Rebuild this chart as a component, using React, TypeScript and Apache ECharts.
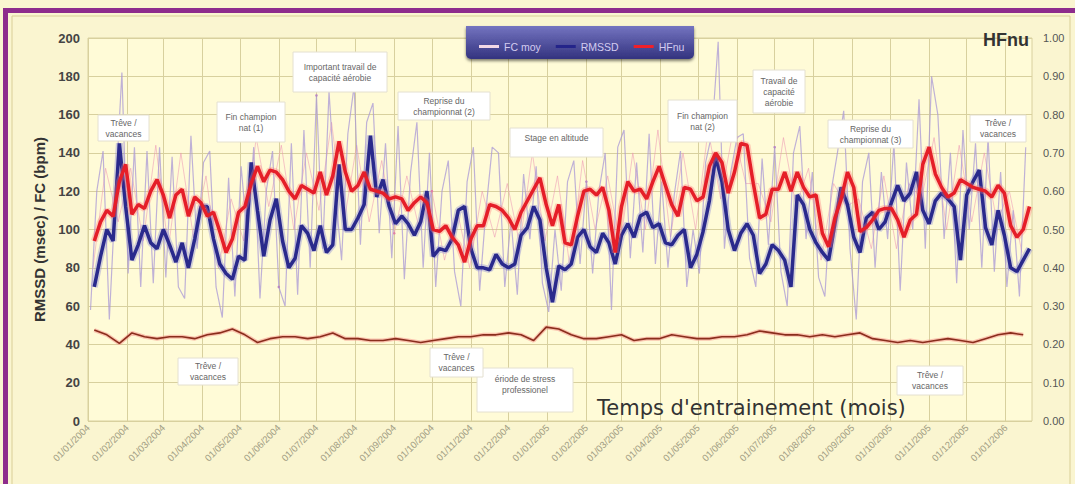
import React, { useEffect, useRef } from "react";
import * as echarts from "echarts";

// ---------- axis categories (one per day, 01/01/2004 .. 22/01/2006) ----------
const FIRST_DAY = Date.UTC(2004, 0, 1);
const DAY_COUNT = 753;
const dayLabels: string[] = [];
for (let i = 0; i < DAY_COUNT; i++) {
  const d = new Date(FIRST_DAY + i * 86400000);
  const dd = String(d.getUTCDate()).padStart(2, "0");
  const mm = String(d.getUTCMonth() + 1).padStart(2, "0");
  dayLabels.push(`${dd}/${mm}/${d.getUTCFullYear()}`);
}

const leftTicks = { min: 0, max: 200, interval: 20 };
const rightTicks = { min: 0, max: 1, interval: 0.1 };

// ---------- data ----------
// smoothed series: one value every 5 days, first value at day 5
const SMOOTH_START = 5;
const SMOOTH_STEP = 5;
const rmssd = [
  70, 86, 100, 94, 145, 112, 84, 92, 102, 93, 90, 100, 92, 83, 93, 80, 95, 112, 112, 95, 82, 77, 74, 86, 84, 135, 110, 86, 105, 116, 94, 80, 85, 102, 98, 89, 102,
  88, 92, 134, 100, 100, 106, 113, 149, 117, 126, 112, 103, 107, 103, 97, 104, 120, 86, 90, 89, 95, 110, 112, 90, 80, 80, 79, 87, 82, 80, 82, 97, 101, 112, 105, 80, 62, 81,
  79, 82, 96, 100, 91, 88, 98, 93, 82, 97, 103, 96, 107, 109, 101, 103, 93, 92, 97, 100, 80, 87, 99, 115, 138, 125, 100, 89, 98, 103, 97, 77, 82, 92, 89, 84, 70,
  118, 113, 100, 93, 88, 84, 103, 122, 113, 96, 88, 106, 109, 100, 104, 114, 123, 115, 119, 130, 110, 103, 115, 119, 116, 112, 84, 118, 125, 131, 101, 92, 110, 97, 80, 78, 84, 90,
];
const hfnu = [
  0.47, 0.52, 0.55, 0.535, 0.625, 0.67, 0.54, 0.565, 0.555, 0.6, 0.63, 0.59, 0.53, 0.59, 0.605, 0.535, 0.585, 0.57, 0.535, 0.545, 0.495, 0.44, 0.475, 0.545, 0.56, 0.62, 0.665, 0.625, 0.655, 0.65, 0.63, 0.6, 0.58, 0.615, 0.605, 0.595, 0.65,
  0.59, 0.64, 0.73, 0.65, 0.6, 0.615, 0.65, 0.605, 0.6, 0.595, 0.58, 0.585, 0.58, 0.55, 0.57, 0.585, 0.57, 0.5, 0.495, 0.51, 0.48, 0.46, 0.415, 0.475, 0.51, 0.51, 0.565, 0.56, 0.55, 0.53, 0.5, 0.545, 0.575, 0.605, 0.635, 0.565, 0.51, 0.565,
  0.465, 0.46, 0.535, 0.6, 0.605, 0.59, 0.61, 0.55, 0.44, 0.56, 0.625, 0.6, 0.605, 0.58, 0.625, 0.665, 0.615, 0.565, 0.535, 0.61, 0.605, 0.575, 0.585, 0.665, 0.7, 0.675, 0.595, 0.65, 0.725, 0.72, 0.62, 0.53, 0.54, 0.605, 0.605, 0.65, 0.6,
  0.65, 0.61, 0.585, 0.59, 0.49, 0.455, 0.53, 0.58, 0.65, 0.61, 0.495, 0.505, 0.525, 0.55, 0.555, 0.555, 0.525, 0.48, 0.525, 0.54, 0.67, 0.715, 0.645, 0.61, 0.585, 0.595, 0.63, 0.62, 0.61, 0.605, 0.6, 0.585, 0.615, 0.595, 0.51, 0.48, 0.5, 0.56,
];
// FC moy: one value every 10 days, first value at day 5
const FC_START = 5;
const FC_STEP = 10;
const fcMoy = [
  47.5, 45, 40.5, 46, 44, 43, 44, 44, 43, 45, 46, 48, 45, 41, 43, 44, 44, 43, 44, 46, 43, 43, 42, 42, 43, 42, 41, 42, 43, 44, 44, 45, 45, 46, 45, 42, 49, 48,
  45, 43, 43, 44, 45, 42, 43, 43, 45, 44, 43, 43, 44, 44, 45, 47, 46, 45, 45, 44, 45, 44, 45, 46, 43, 42, 41, 42, 41, 42, 43, 42, 41, 43, 45, 46, 45,
];
// daily RMSSD (thin light line): one value every 5 days, first value at day 2
const RAW_START = 2;
const RAW_STEP = 5;
const rmssdDaily = [
  58, 120, 141, 53, 120, 182, 77, 143, 70, 141, 72, 143, 75, 138, 70, 64, 149, 90, 135, 141, 70, 54, 127, 65, 133, 95, 143, 64, 120, 141, 70, 60, 145, 66, 152, 80, 170,
  90, 172, 120, 84, 150, 175, 92, 156, 166, 98, 145, 85, 154, 74, 130, 156, 80, 140, 70, 120, 136, 78, 60, 125, 143, 68, 110, 143, 140, 70, 105, 66, 129, 95, 133, 72, 57, 100,
  68, 125, 136, 82, 125, 77, 120, 140, 58, 143, 152, 85, 135, 88, 150, 82, 125, 80, 118, 141, 70, 100, 77, 135, 150, 198, 90, 130, 148, 150, 85, 70, 137, 92, 143, 78, 60, 140,
  154, 95, 130, 75, 65, 120, 140, 162, 90, 53, 125, 140, 80, 130, 95, 145, 68, 135, 100, 168, 90, 180, 160, 95, 140, 72, 152, 100, 145, 80, 148, 78, 130, 70, 110, 65, 143,
];
// daily HFnu (thin pink line): one value every 10 days, first value at day 4
const RAW_HF_START = 4;
const RAW_HF_STEP = 10;
const hfnuDaily = [
  0.4, 0.66, 0.52, 0.66, 0.47, 0.72, 0.45, 0.7, 0.48, 0.64, 0.4, 0.58, 0.47, 0.74, 0.56, 0.72, 0.5, 0.7, 0.55, 0.78, 0.52, 0.72, 0.52, 0.68, 0.49,
  0.64, 0.5, 0.6, 0.42, 0.55, 0.4, 0.6, 0.48, 0.62, 0.46, 0.7, 0.47, 0.64, 0.4, 0.68, 0.5, 0.64, 0.46, 0.7, 0.5, 0.76, 0.48, 0.7, 0.5, 0.76,
  0.58, 0.76, 0.62, 0.62, 0.52, 0.74, 0.56, 0.66, 0.42, 0.62, 0.56, 0.58, 0.45, 0.64, 0.45, 0.62, 0.58, 0.74, 0.5, 0.72, 0.52, 0.7, 0.52, 0.6, 0.44,
];

// ---------- annotation boxes (layout) ----------
type Note = { x: number; y: number; w: number; h: number; lines: string[]; ty?: number };
const NOTES: Note[] = [
  { x: 98, y: 115, w: 51, h: 26, lines: ["Trêve /", "vacances"] },
  { x: 217, y: 102, w: 68, h: 40, lines: ["Fin champion", "nat (1)"] },
  { x: 293, y: 52, w: 94, h: 40, lines: ["Important travail de", "capacité aérobie"] },
  { x: 398, y: 92, w: 92, h: 28, lines: ["Reprise du", "championnat (2)"] },
  { x: 510, y: 128, w: 93, h: 29, lines: ["Stage en altitude"], ty: 138 },
  { x: 668, y: 100, w: 69, h: 42, lines: ["Fin champion", "nat (2)"] },
  { x: 753, y: 70, w: 52, h: 43, lines: ["Travail de", "capacité", "aérobie"] },
  { x: 828, y: 120, w: 85, h: 28, lines: ["Reprise du", "championnat (3)"] },
  { x: 970, y: 115, w: 56, h: 27, lines: ["Trêve /", "vacances"] },
  { x: 178, y: 358, w: 60, h: 27, lines: ["Trêve /", "vacances"] },
  { x: 477, y: 368, w: 96, h: 44, lines: ["ériode de stress", "professionel"], ty: 384 },
  { x: 430, y: 348, w: 53, h: 29, lines: ["Trêve /", "vacances"] },
  { x: 897, y: 366, w: 66, h: 29, lines: ["Trêve /", "vacances"] },
];

const GRID_COLOR = "#D8D09E";
const FONT = "'Liberation Sans', Arial, sans-serif";
const isMonthStart = (_i: number, v: string) => v.startsWith("01/");
const pairs = (vals: number[], start: number, step: number) => vals.map((v, i) => [start + i * step, v]);

export default function App() {
  const ref = useRef<HTMLDivElement>(null);
  useEffect(() => {
    const chart = echarts.init(ref.current!, null, { renderer: "svg" });

    const noteEls: any[] = [];
    NOTES.forEach((n) => {
      noteEls.push({
        type: "rect",
        z: 20,
        shape: { x: n.x, y: n.y, width: n.w, height: n.h },
        style: { fill: "#FFFFFF", stroke: "#E4E0D0", lineWidth: 1 },
      });
      noteEls.push({
        type: "text",
        z: 21,
        x: n.x + n.w / 2,
        y: n.ty ?? n.y + n.h / 2,
        style: {
          text: n.lines.join("\n"),
          fill: "#666",
          font: `8.5px ${FONT}`,
          align: "center",
          verticalAlign: "middle",
          lineHeight: 11,
        },
      });
    });

    const option: any = {
      animation: false,
      backgroundColor: "#FAF5D0",
      grid: {
        left: 88,
        right: 43,
        top: 38,
        bottom: 63,
        show: true,
        backgroundColor: "#FFFBD7",
        borderColor: GRID_COLOR,
        borderWidth: 1,
      },
      legend: {
        data: [
          { name: "FC moy", itemStyle: { color: "#F2D8E6" } },
          { name: "RMSSD", itemStyle: { color: "#24248A" } },
          { name: "HFnu", itemStyle: { color: "#F0202A" } },
        ],
        left: 474,
        top: 36,
        icon: "rect",
        itemWidth: 20,
        itemHeight: 3,
        itemGap: 15,
        z: 12,
        textStyle: { color: "#D4CCF0", fontSize: 10.5, fontFamily: FONT },
      },
      xAxis: {
        type: "category",
        data: dayLabels,
        boundaryGap: false,
        axisLine: { show: false },
        axisTick: { show: false },
        splitLine: { show: true, interval: isMonthStart, lineStyle: { color: GRID_COLOR, width: 1 } },
        axisLabel: {
          interval: isMonthStart,
          rotate: 45,
          fontSize: 9.5,
          color: "#A09C82",
          margin: 5,
          fontFamily: FONT,
        },
      },
      yAxis: [
        {
          type: "value",
          ...leftTicks,
          name: "RMSSD (msec) / FC (bpm)",
          nameLocation: "middle",
          nameGap: 31,
          nameTextStyle: { fontSize: 15, fontWeight: "bold", color: "#333", fontFamily: FONT },
          axisLine: { show: false },
          axisTick: { show: false },
          splitLine: { show: true, lineStyle: { color: GRID_COLOR, width: 1 } },
          axisLabel: { fontSize: 13, fontWeight: "bold", color: "#444", margin: 8, fontFamily: FONT },
        },
        {
          type: "value",
          ...rightTicks,
          position: "right",
          axisLine: { show: false },
          axisTick: { show: false },
          splitLine: { show: false },
          axisLabel: {
            fontSize: 11,
            color: "#555",
            margin: 11,
            formatter: (v: number) => v.toFixed(2),
            fontFamily: FONT,
          },
        },
      ],
      series: [
        {
          type: "line",
          name: "HFnu quotidien",
          yAxisIndex: 1,
          data: pairs(hfnuDaily, RAW_HF_START, RAW_HF_STEP),
          symbol: "circle",
          symbolSize: 2.5,
          showSymbol: true,
          itemStyle: { color: "#E07FA6" },
          lineStyle: { color: "rgba(236,150,180,0.55)", width: 1 },
          silent: true,
          z: 1,
        },
        {
          type: "line",
          name: "RMSSD quotidien",
          data: pairs(rmssdDaily, RAW_START, RAW_STEP),
          symbol: "circle",
          symbolSize: 2.5,
          showSymbol: true,
          itemStyle: { color: "#B887C2" },
          lineStyle: { color: "rgba(170,152,214,0.75)", width: 1.2 },
          silent: true,
          z: 1,
        },
        {
          type: "line",
          name: "FC halo",
          data: pairs(fcMoy, FC_START, FC_STEP),
          symbol: "none",
          lineStyle: { color: "rgba(245,150,140,0.55)", width: 4 },
          silent: true,
          z: 2,
        },
        {
          type: "line",
          name: "FC moy",
          data: pairs(fcMoy, FC_START, FC_STEP),
          symbol: "none",
          itemStyle: { color: "#8A2D1C" },
          lineStyle: { color: "#8A2D1C", width: 1.6 },
          z: 3,
        },
        {
          type: "line",
          name: "RMSSD halo",
          data: pairs(rmssd, SMOOTH_START, SMOOTH_STEP),
          symbol: "none",
          lineStyle: { color: "rgba(120,120,215,0.35)", width: 7 },
          silent: true,
          z: 3,
        },
        {
          type: "line",
          name: "RMSSD",
          data: pairs(rmssd, SMOOTH_START, SMOOTH_STEP),
          symbol: "none",
          itemStyle: { color: "#2A2A8C" },
          lineStyle: { color: "#2A2A8C", width: 3.5 },
          z: 4,
        },
        {
          type: "line",
          name: "HFnu halo",
          yAxisIndex: 1,
          data: pairs(hfnu, SMOOTH_START, SMOOTH_STEP),
          symbol: "none",
          lineStyle: { color: "rgba(255,120,120,0.35)", width: 7 },
          silent: true,
          z: 4,
        },
        {
          type: "line",
          name: "HFnu",
          yAxisIndex: 1,
          data: pairs(hfnu, SMOOTH_START, SMOOTH_STEP),
          symbol: "none",
          itemStyle: { color: "#E51E28" },
          lineStyle: { color: "#E51E28", width: 3.5 },
          z: 5,
        },
      ],
      graphic: [
        { type: "rect", z: 1, shape: { x: 3, y: 8, width: 1072, height: 5 }, style: { fill: "#8E2C8C" } },
        { type: "rect", z: 1, shape: { x: 3, y: 8, width: 5, height: 476 }, style: { fill: "#8E2C8C" } },
        { type: "rect", z: 1, shape: { x: 12, y: 16, width: 1058, height: 470 }, style: { fill: "none", stroke: "#D9CE96", lineWidth: 1 } },
        {
          type: "rect",
          z: 11,
          shape: { x: 466, y: 26, width: 228, height: 33, r: [0, 0, 5, 5] },
          style: {
            fill: new echarts.graphic.LinearGradient(0, 0, 0, 1, [
              { offset: 0, color: "#7474C0" },
              { offset: 1, color: "#33337F" },
            ]),
            shadowColor: "rgba(0,0,0,0.5)",
            shadowBlur: 3,
            shadowOffsetY: 2,
          },
        },
        {
          type: "text",
          z: 12,
          x: 983,
          y: 40,
          style: {
            text: "HFnu",
            fill: "#333",
            font: `bold 18px ${FONT}`,
            verticalAlign: "middle",
          },
        },
        {
          type: "text",
          z: 12,
          x: 597,
          y: 408,
          style: {
            text: "Temps d'entrainement (mois)",
            fill: "#333",
            font: "21px 'DejaVu Sans', Verdana, sans-serif",
            verticalAlign: "middle",
          },
        },
        ...noteEls,
      ],
    };

    chart.setOption(option);
    return () => chart.dispose();
  }, []);

  return (
    <div
      ref={ref}
      style={{ position: "fixed", left: 0, top: 0, width: 1075, height: 484, background: "#FAF5D0" }}
    />
  );
}
